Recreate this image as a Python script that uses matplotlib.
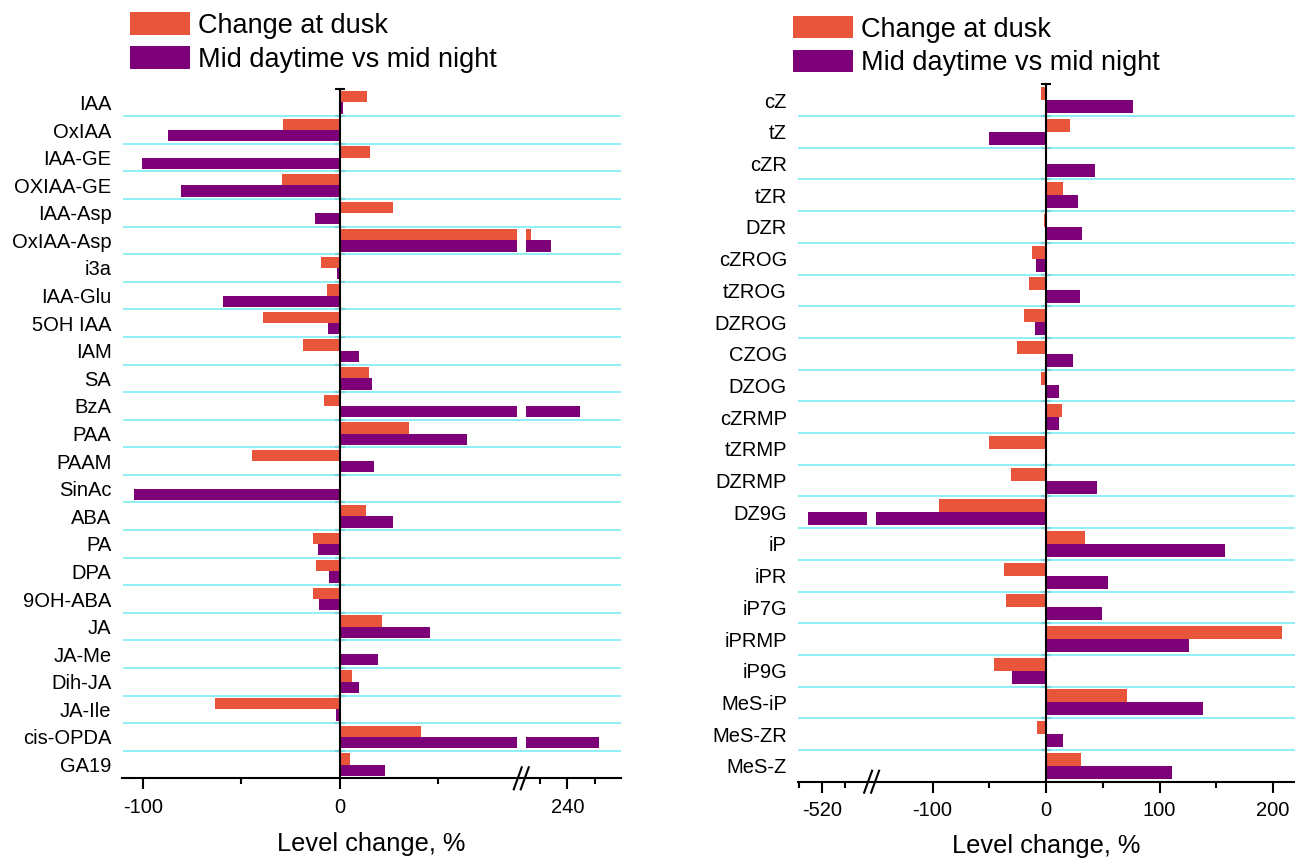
import numpy as np
import matplotlib
matplotlib.use("Agg")
import matplotlib.pyplot as plt

FIG_W, FIG_H = 1295, 859
ORANGE = "#E8553B"
PURPLE = "#7D0078"
GRID = "#86EEF4"

left_labels = ["IAA", "OxIAA", "IAA-GE", "OXIAA-GE", "IAA-Asp", "OxIAA-Asp", "i3a",
               "IAA-Glu", "5OH IAA", "IAM", "SA", "BzA", "PAA", "PAAM", "SinAc", "ABA",
               "PA", "DPA", "9OH-ABA", "JA", "JA-Me", "Dih-JA", "JA-Ile", "cis-OPDA", "GA19"]
left_dusk = [13.7, -28.6, 15.6, -29.3, 27.2, 214, -9.3, -6.6, -39.2, -18.6, 14.9, -7.9,
             35.4, -44.8, 0, 13.3, -13.7, -12.3, -13.7, 21.4, 0, 6.4, -63.3, 41.3, 5.0]
left_day = [1.7, -87.3, -100.4, -80.7, -12.4, 228, -1.2, -59.3, -6.0, 9.6, 16.6, 249,
            64.8, 17.3, -104.8, 27.3, -10.9, -5.6, -10.6, 45.9, 19.7, 10.0, -2.1, 263, 22.8]

right_labels = ["cZ", "tZ", "cZR", "tZR", "DZR", "cZROG", "tZROG", "DZROG", "CZOG", "DZOG",
                "cZRMP", "tZRMP", "DZRMP", "DZ9G", "iP", "iPR", "iP7G", "iPRMP", "iP9G",
                "MeS-iP", "MeS-ZR", "MeS-Z"]
right_dusk = [-4.8, 21.4, 0, 14.8, -1.5, -12.2, -14.8, -19.6, -25.8, -4.8, 14.0, -50.0,
              -30.9, -94.6, 34.6, -37.5, -35.6, 207.7, -46.2, 71.3, -8.0, 30.6]
right_day = [76.8, -50.2, 42.8, 27.7, 31.4, -9.2, 30.3, -10.0, 24.0, 11.1, 11.1, 0,
             44.7, -532, 157.5, 54.9, 49.1, 125.5, -30.2, 138.2, 14.9, 111.0]

# broken x axes: data knots -> compressed positions
left_knots = ([-1e4, 90, 210, 1e4], [-1e4, 90, 94.5, 94.5 + (1e4 - 210) * 0.705])
right_knots = ([-1e4, -480, -150, 1e4], [-157.5 - (1e4 - 480), -157.5, -150, 1e4])
left_ticks = [-100, 0, 240]
left_minor = [-50, 50, 220, 260]
right_ticks = [-520, -100, 0, 100, 200]
right_minor = [-540, -500, -50, 50, 150]

plt.rcParams['font.family'] = ['Liberation Sans', 'DejaVu Sans']


def axes_rect(x0, y0, x1, y1):
    """Pixel box -> figure fraction rectangle."""
    return [x0 / FIG_W, 1 - y1 / FIG_H, (x1 - x0) / FIG_W, (y1 - y0) / FIG_H]


def set_broken_scale(ax, knots):
    data_k, pos_k = knots
    forward = lambda x: np.interp(x, data_k, pos_k)
    inverse = lambda p: np.interp(p, pos_k, data_k)
    ax.set_xscale('function', functions=(forward, inverse))
    return forward


def draw_break_marks(ax, forward, knots, xlim):
    """Draws the // marks on the bottom axis at the break."""
    lo, hi = knots[0][1], knots[0][2]
    pc = (forward(lo) + forward(hi)) / 2
    p0, p1 = forward(xlim[0]), forward(xlim[1])
    frac = (pc - p0) / (p1 - p0)
    wpx = ax.bbox.width
    hpx = ax.bbox.height
    for off in (-3.5, 3.5):
        xs = [frac + (off - 4) / wpx, frac + (off + 4) / wpx]
        ys = [-11 / hpx, 11 / hpx]
        ax.plot(xs, ys, transform=ax.transAxes, color='black', lw=1.5,
                clip_on=False, zorder=5)


def plot_panel(ax, labels, dusk, day, knots, xlim, majors, minors):
    n = len(labels)
    y = np.arange(n)
    forward = set_broken_scale(ax, knots)

    ax.barh(y - 0.205, dusk, height=0.41, color=ORANGE, zorder=2, label='Change at dusk')
    ax.barh(y + 0.205, day, height=0.41, color=PURPLE, zorder=2,
            label='Mid daytime vs mid night')
    ax.axvspan(knots[0][1], knots[0][2], color='white', lw=0, zorder=2.2)
    for b in y[:-1] + 0.5:
        ax.axhline(b, color=GRID, lw=1.3, zorder=2.3)

    ax.set_xlim(xlim)
    ax.set_ylim(n - 0.5, -0.5)

    ax.set_yticks(y, labels=labels)
    ax.set_yticks(y - 0.5, minor=True)
    ax.tick_params(axis='y', which='major', left=True, right=False, length=0, pad=8,
                   labelsize=14.5)
    ax.tick_params(axis='y', which='minor', left=False, right=True, labelright=False,
                   direction='inout', length=7, width=1.5)
    ax.spines['right'].set_position(('data', 0))
    ax.spines['right'].set_linewidth(1.5)
    ax.spines['top'].set_visible(False)
    ax.spines['left'].set_visible(False)
    ax.spines['bottom'].set_linewidth(1.5)

    ax.set_xticks(majors, labels=[str(v) for v in majors])
    ax.set_xticks(minors, minor=True)
    ax.tick_params(axis='x', which='major', length=8, width=1.5, pad=6, labelsize=14.5)
    ax.tick_params(axis='x', which='minor', length=4, width=1.5)

    draw_break_marks(ax, forward, knots, xlim)


def add_legend(ax, x, y):
    ax.legend(loc='upper left', bbox_to_anchor=(x / FIG_W, 1 - y / FIG_H),
              bbox_transform=ax.figure.transFigure, frameon=False, fontsize=19.5,
              handlelength=2.25, handleheight=0.9, handletextpad=0.28,
              labelspacing=0.27, borderpad=0, borderaxespad=0)


def add_xlabel(ax, ypos):
    ax.set_xlabel('Level change, %', fontsize=18.3)
    ax.xaxis.label.set_va('center')
    ax.xaxis.set_label_coords(0.5, ypos)


def main():
    fig = plt.figure(figsize=(FIG_W / 100, FIG_H / 100), dpi=100)
    ax_l = fig.add_axes(axes_rect(122.5, 88.7, 620.7, 778.3))
    ax_r = fig.add_axes(axes_rect(798.1, 84.3, 1295, 781.7))

    plot_panel(ax_l, left_labels, left_dusk, left_day, left_knots, (-110.4, 278.5),
               left_ticks, left_minor)
    plot_panel(ax_r, right_labels, right_dusk, right_day, right_knots, (-541, 219.3),
               right_ticks, right_minor)

    add_legend(ax_l, 129.5, 12.5)
    add_legend(ax_r, 792.5, 16)
    add_xlabel(ax_l, -0.0955)
    add_xlabel(ax_r, -0.092)

    fig.savefig('out.png', dpi=100)


if __name__ == "__main__":
    main()
